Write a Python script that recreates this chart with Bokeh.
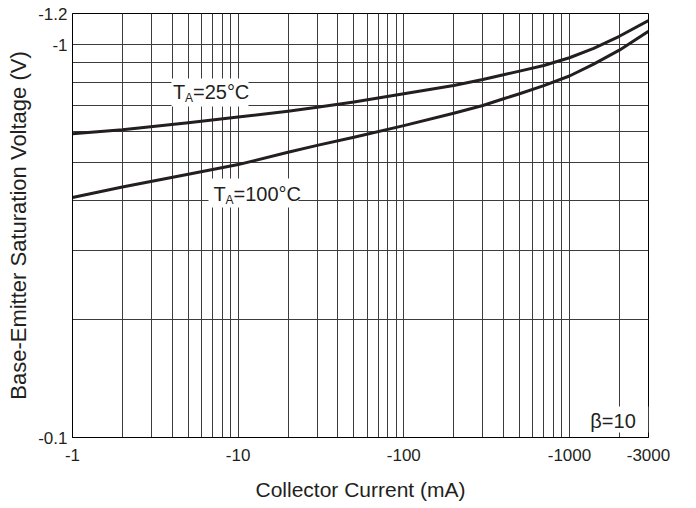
from bokeh.plotting import figure
from bokeh.models import Range1d, FixedTicker, CustomJSTickFormatter, Label, BoxAnnotation
from bokeh.embed import file_html
from bokeh.resources import INLINE

# ---- data ----
current_ma = [1, 2, 5, 10, 20, 30, 50, 100, 200, 300, 400, 500, 700, 1000, 1400, 2000, 3000]
vbe_25c = [0.593, 0.607, 0.633, 0.654, 0.677, 0.693, 0.714, 0.750, 0.787, 0.815,
           0.838, 0.856, 0.885, 0.926, 0.978, 1.050, 1.152]
vbe_100c = [0.408, 0.434, 0.468, 0.495, 0.532, 0.554, 0.581, 0.622, 0.669, 0.700,
            0.728, 0.750, 0.786, 0.832, 0.892, 0.968, 1.082]

x_ticks = [1, 10, 100, 1000, 3000]
x_tick_labels = ["-1", "-10", "-100", "-1000", "-3000"]
y_ticks = [0.1, 1, 1.2]
y_tick_labels = ["-0.1", "-1", "-1.2"]

x_grid = [1, 2, 3, 4, 5, 6, 7, 8, 9, 10, 20, 30, 40, 50, 60, 70, 80, 90, 100,
          200, 300, 400, 500, 600, 700, 800, 900, 1000, 2000, 3000]
y_grid = [0.1, 0.2, 0.3, 0.4, 0.5, 0.6, 0.7, 0.8, 0.9, 1.0, 1.2]

FONT = "Liberation Sans"
INK = "#231f20"
GRID = "#3c3c3c"

p = figure(width=696, height=506, x_axis_type="log", y_axis_type="log",
           x_range=Range1d(1, 3000), y_range=Range1d(0.1, 1.2),
           output_backend="svg", toolbar_location=None,
           min_border_left=72, min_border_right=48, min_border_top=13, min_border_bottom=69)
p.background_fill_color = "white"
p.border_fill_color = "white"
p.outline_line_color = "black"
p.outline_line_width = 1

fmt_js = "const i = t.indexOf(tick); return i >= 0 ? l[i] : '';"
for ax, ticks, labels in ((p.xaxis[0], x_ticks, x_tick_labels), (p.yaxis[0], y_ticks, y_tick_labels)):
    ax.ticker = FixedTicker(ticks=ticks, minor_ticks=[])
    ax.formatter = CustomJSTickFormatter(args=dict(t=ticks, l=labels), code=fmt_js)
    ax.major_tick_line_color = None
    ax.minor_tick_line_color = None
    ax.major_tick_out = 0
    ax.major_tick_in = 0
    ax.minor_tick_out = 0
    ax.minor_tick_in = 0
    ax.axis_line_color = "black"
    ax.major_label_text_font = FONT
    ax.major_label_text_font_size = "17px"
    ax.major_label_text_color = INK
    ax.axis_label_text_font = FONT
    ax.axis_label_text_font_style = "normal"
    ax.axis_label_text_color = INK

p.xaxis.axis_label = "Collector Current (mA)"
p.yaxis.axis_label = "Base-Emitter Saturation Voltage (V)"
p.xaxis.axis_label_text_font_size = "21px"
p.yaxis.axis_label_text_font_size = "22px"
p.xaxis.major_label_standoff = 11
p.xaxis.axis_label_standoff = 14
p.yaxis.major_label_standoff = 5
p.yaxis.axis_label_standoff = 4

p.xgrid.ticker = FixedTicker(ticks=x_grid, minor_ticks=[])
p.ygrid.ticker = FixedTicker(ticks=y_grid, minor_ticks=[])
for g in (p.xgrid[0], p.ygrid[0]):
    g.grid_line_color = GRID
    g.grid_line_width = 1

p.line(current_ma, vbe_25c, line_width=3, line_color=INK, line_join="round")
p.line(current_ma, vbe_100c, line_width=3, line_color=INK, line_join="round")

# white boxes behind annotations
p.add_layout(BoxAnnotation(left=3.96, right=11.54, bottom=0.696, top=0.820,
                           fill_color="white", fill_alpha=1, line_color=None))
p.add_layout(BoxAnnotation(left=6.62, right=23.1, bottom=0.385, top=0.456,
                           fill_color="white", fill_alpha=1, line_color=None))
p.add_layout(BoxAnnotation(left=1060, right=3000, bottom=0.103, top=0.120,
                           fill_color="white", fill_alpha=1, line_color=None))

def lab(x, y, text, size="20px", dx=0, dy=0):
    p.add_layout(Label(x=x, y=y, text=text, x_offset=dx, y_offset=dy + 7,
                       text_font=FONT, text_font_size=size, text_color=INK,
                       text_baseline="alphabetic", text_align="left"))

# T_A = 25 °C
lab(4.04, 0.729, "T")
lab(4.04, 0.729, "A", size="12px", dx=12, dy=-6)
lab(4.04, 0.729, "=25°C", dx=20)
# T_A = 100 °C
lab(7.1, 0.401, "T")
lab(7.1, 0.401, "A", size="12px", dx=12, dy=-6)
lab(7.1, 0.401, "=100°C", dx=20)
# beta
lab(1337, 0.1055, "β=10")

open("out.html", "w").write(file_html(p, INLINE))
